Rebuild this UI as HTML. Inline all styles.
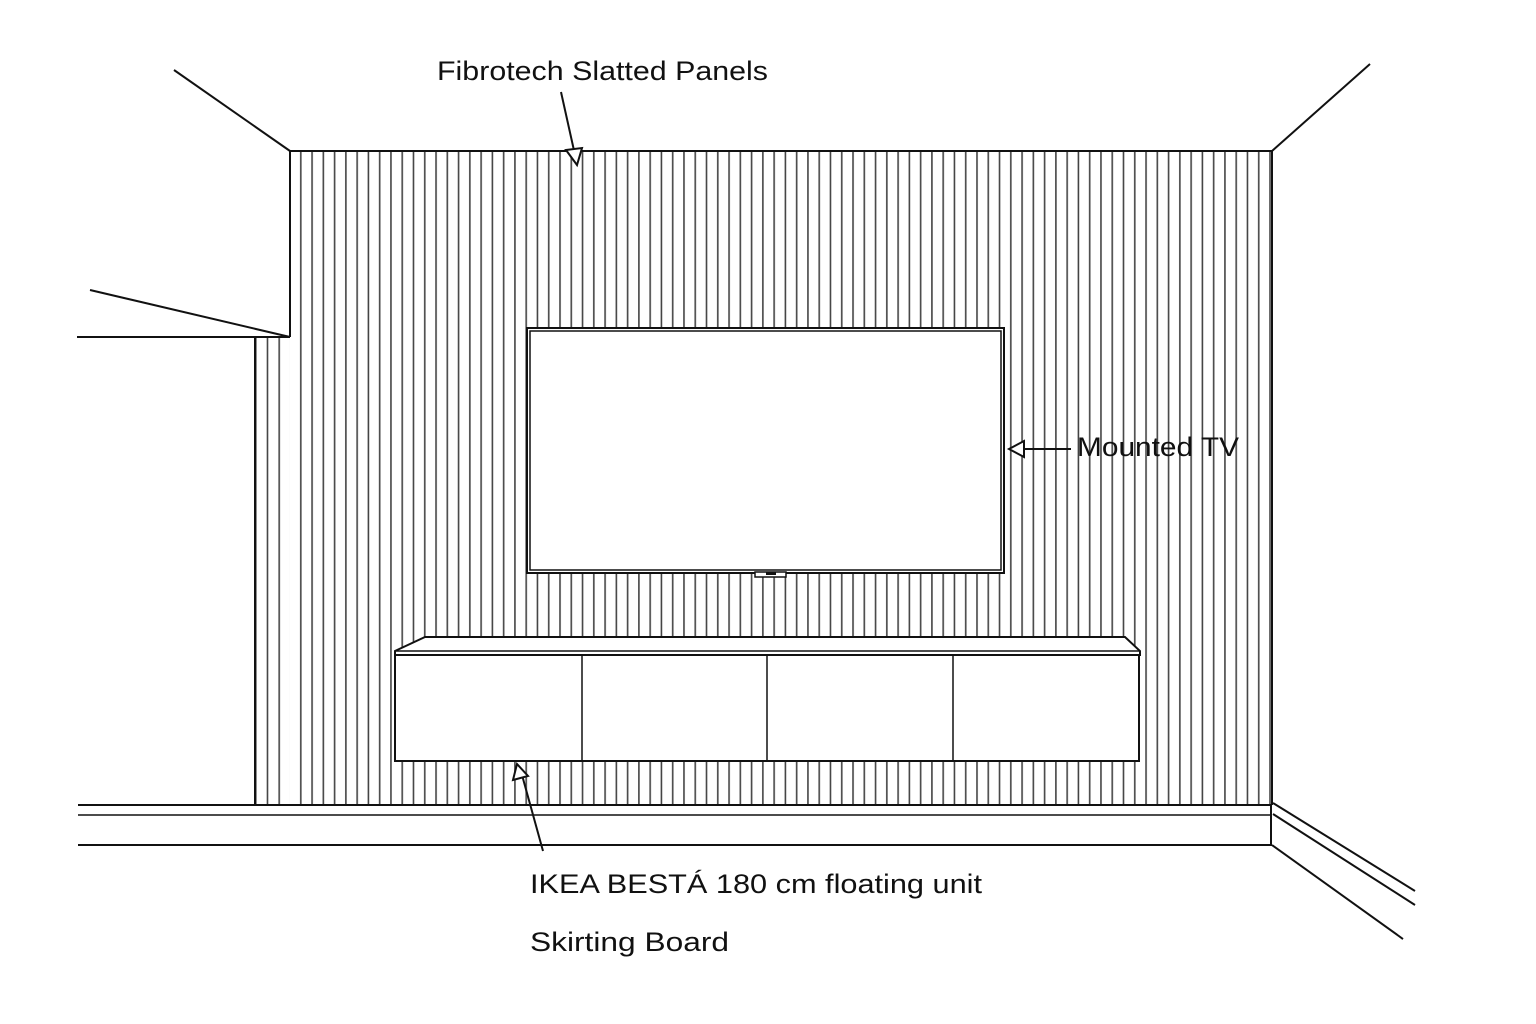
<!DOCTYPE html>
<html><head><meta charset="utf-8"><style>html,body{margin:0;padding:0;background:#fff}svg{display:block}</style></head>
<body>
<svg width="1536" height="1024" viewBox="0 0 1536 1024" xmlns="http://www.w3.org/2000/svg">
<defs>
<pattern id="sl" patternUnits="userSpaceOnUse" x="295" y="0" width="11.27" height="10">
<rect x="5" y="0" width="1.6" height="10" fill="#444"/>
</pattern>
<pattern id="sl2" patternUnits="userSpaceOnUse" x="250" y="0" width="11.7" height="10">
<rect x="5" y="0" width="1.6" height="10" fill="#444"/>
</pattern>
</defs>
<rect width="1536" height="1024" fill="#fff"/>
<!-- slats -->
<rect x="292" y="152" width="979" height="653" fill="url(#sl)"/>
<rect x="256" y="338" width="34" height="467" fill="url(#sl2)"/>
<g stroke="#111" stroke-width="2" fill="none">
<!-- wall -->
<polyline points="290,337 290,151 1272,151 1272,805"/>
<line x1="255" y1="337" x2="255" y2="805"/>
<line x1="174" y1="70" x2="290" y2="151"/>
<line x1="1370" y1="64" x2="1272" y2="151"/>
<line x1="90" y1="290" x2="290" y2="337"/>
<line x1="77" y1="337" x2="290" y2="337"/>
<!-- skirting -->
<line x1="78" y1="805" x2="1272" y2="805"/>
<line x1="78" y1="815" x2="1272" y2="815" stroke-width="1.5"/>
<line x1="78" y1="845" x2="1272" y2="845"/>
<line x1="1271" y1="805" x2="1271" y2="845"/>
<line x1="1273" y1="803" x2="1415" y2="891"/>
<line x1="1273" y1="814" x2="1415" y2="905"/>
<line x1="1272" y1="845" x2="1403" y2="939"/>
</g>
<!-- TV -->
<rect x="527" y="328" width="477" height="245" fill="#fff" stroke="#111" stroke-width="2"/>
<rect x="530" y="331" width="471" height="239" fill="#fff" stroke="#111" stroke-width="1.5"/>
<rect x="755" y="572" width="31" height="5" fill="#fff" stroke="#111" stroke-width="1.5"/>
<rect x="766" y="572" width="10" height="3" fill="#111"/>
<!-- unit -->
<polygon points="425,637 1125,637 1140,651 1140,655 395,655 395,651" fill="#fff" stroke="#111" stroke-width="2"/>
<line x1="395" y1="651" x2="1140" y2="651" stroke="#111" stroke-width="1.5"/>
<rect x="395" y="655" width="744" height="106" fill="#fff" stroke="#111" stroke-width="2"/>
<g stroke="#111" stroke-width="1.5">
<line x1="582" y1="655" x2="582" y2="761"/>
<line x1="767" y1="655" x2="767" y2="761"/>
<line x1="953" y1="655" x2="953" y2="761"/>
</g>
<!-- arrows -->
<g stroke="#111" stroke-width="2" fill="#fff">
<line x1="561" y1="92" x2="575" y2="155"/>
<polygon points="566,150 582,148 577,165"/>
<line x1="1071" y1="449" x2="1022" y2="449"/>
<polygon points="1024,441 1024,457 1009,449"/>
<line x1="543" y1="851" x2="522" y2="775"/>
<polygon points="513,780 528,776 517,764"/>
</g>
<g font-family="Liberation Sans, sans-serif" font-size="27" fill="#111">
<text x="437" y="80" textLength="331" lengthAdjust="spacingAndGlyphs">Fibrotech Slatted Panels</text>
<text x="1077" y="456" textLength="162" lengthAdjust="spacingAndGlyphs">Mounted TV</text>
<text x="530" y="893" textLength="452" lengthAdjust="spacingAndGlyphs">IKEA BESTÁ 180 cm floating unit</text>
<text x="530" y="951" textLength="199" lengthAdjust="spacingAndGlyphs">Skirting Board</text>
</g>
</svg>
</body></html>
